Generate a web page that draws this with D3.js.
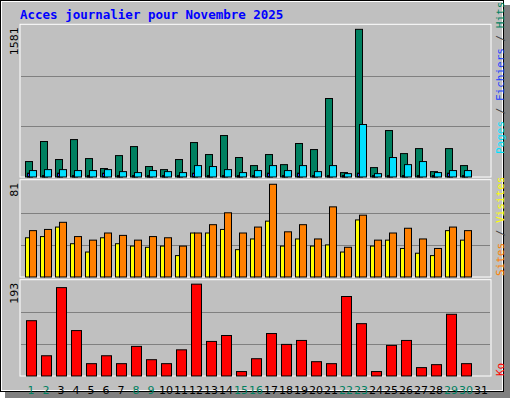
<!DOCTYPE html>
<html><head><meta charset="utf-8">
<script src="https://cdn.jsdelivr.net/npm/d3@7"></script>
<style>body{margin:0;background:#fff}</style>
</head><body>
<script>
/*--- data ---*/
const days = d3.range(1, 32);
const weekend = [1, 2, 8, 9, 15, 16, 22, 23, 29, 30];
const hits = [161,370,182,390,192,88,223,317,109,77,182,359,234,432,203,119,234,129,349,286,818,46,1539,98,484,244,296,56,296,119,0];
const files = [67,77,77,67,67,77,56,46,67,56,46,119,109,77,46,67,119,67,119,56,119,35,547,35,203,129,161,46,67,67,0];
const pages = [40,15,40,15,15,40,15,15,15,15,15,40,15,15,15,15,40,15,40,15,15,15,40,15,15,15,15,15,40,15,0];
const sites = [33,34,42,28,21,33,28,26,25,26,18,37,37,40,23,32,47,26,32,26,27,21,48,26,31,24,20,18,39,31,0];
const visits = [39,40,46,34,31,37,35,31,34,33,26,37,44,54,37,42,78,38,44,32,59,25,52,31,37,41,32,24,42,39,0];
const kbytes = [112,41,179,92,25,41,25,60,33,25,53,186,70,82,9,35,86,64,72,29,25,161,106,9,62,72,17,23,125,25,0];
const maxHits = 1581, maxVisits = 81, maxKb = 193;

const W = 512, H = 400;
const L = 20, R = 491;
const svg = d3.select("body").append("svg").attr("width", W).attr("height", H)
  .style("font-family", "'DejaVu Sans Mono', monospace");

// frame
svg.append("rect").attr("x", 0).attr("y", 0).attr("width", W).attr("height", H).attr("fill", "#fff");
svg.append("rect").attr("x", 5).attr("y", 5).attr("width", 505).attr("height", 393).attr("fill", "#808080");
svg.append("rect").attr("x", 0.5).attr("y", 0.5).attr("width", 503).attr("height", 391).attr("fill", "#c0c0c0").attr("stroke", "#000");
svg.append("rect").attr("x", 1.5).attr("y", 1.5).attr("width", 501).attr("height", 389).attr("fill", "none").attr("stroke", "#fff");

svg.append("text").attr("x", 20).attr("y", 19).attr("fill", "#0000ff")
  .attr("font-size", 12.5).attr("font-weight", "bold").text("Acces journalier pour Novembre 2025");

const x = d3.scaleBand().domain(days).range([L + 1, L + 1 + 31 * 15]);

const panels = [
  {top: 25.3, bottom: 177, max: maxHits, label: "1581"},
  {top: 180.7, bottom: 277, max: maxVisits, label: "81"},
  {top: 280.7, bottom: 376, max: maxKb, label: "193"}
];

panels.forEach(p => {
  p.y = d3.scaleLinear().domain([0, p.max]).range([p.bottom, p.top]);
  const g = svg.append("g");
  g.append("rect").attr("x", L).attr("y", p.top - 1).attr("width", R - L).attr("height", p.bottom - p.top + 1)
    .attr("fill", "#c0c0c0").attr("stroke", "#fff");
  [1, 2].forEach(k => {
    const yy = Math.round(p.top + (p.bottom - p.top) * k / 3) + 0.5;
    g.append("line").attr("x1", L + 1).attr("x2", R - 1).attr("y1", yy).attr("y2", yy)
      .attr("stroke", "#808080").attr("stroke-width", 1.2);
  });
  svg.append("text").attr("transform", `translate(18,${p.top + 2}) rotate(-90)`)
    .attr("text-anchor", "end").attr("font-family", "'DejaVu Sans', sans-serif")
    .attr("font-size", 11).attr("fill", "#000").text(p.label);
});

function bars(data, panel, dx, w, color) {
  svg.append("g").selectAll("rect").data(days.filter((d, i) => data[i] > 0)).enter().append("rect")
    .attr("x", d => x(d) + dx + 0.5)
    .attr("y", d => panel.y(data[d - 1]))
    .attr("width", w)
    .attr("height", d => panel.bottom - panel.y(data[d - 1]))
    .attr("fill", color).attr("stroke", "#000").attr("stroke-width", 1);
}

bars(hits, panels[0], 4, 7, "#008060");
bars(pages, panels[0], 6, 2, "#2040ff");
bars(files, panels[0], 8, 7, "#00e0ff");
bars(sites, panels[1], 4, 4, "#ffff00");
bars(visits, panels[1], 8, 7, "#ff8000");
bars(kbytes, panels[2], 5, 10, "#ff0000");

// day labels
svg.append("g").selectAll("text").data(days).enter().append("text")
  .attr("x", d => x(d) + 10).attr("y", 394).attr("text-anchor", "middle")
  .attr("font-family", "'DejaVu Sans', sans-serif").attr("font-size", 11)
  .attr("fill", d => weekend.includes(d) ? "#008060" : "#000").text(d => d);

// right legends
function legend(yBottom, parts) {
  const t = svg.append("text").attr("transform", `translate(504,${yBottom}) rotate(-90)`)
    .attr("font-size", 11);
  parts.forEach(([s, c]) => t.append("tspan").attr("fill", c).text(s));
}
legend(154, [["Pages", "#00e0ff"], [" / ", "#404040"], ["Fichiers", "#2040ff"], [" / ", "#404040"], ["Hits", "#008060"]]);
legend(276, [["Sites", "#ff8000"], [" / ", "#404040"], ["Visites", "#ffff00"]]);
legend(376, [["Ko", "#ff0000"]]);
</script>
</body></html>
